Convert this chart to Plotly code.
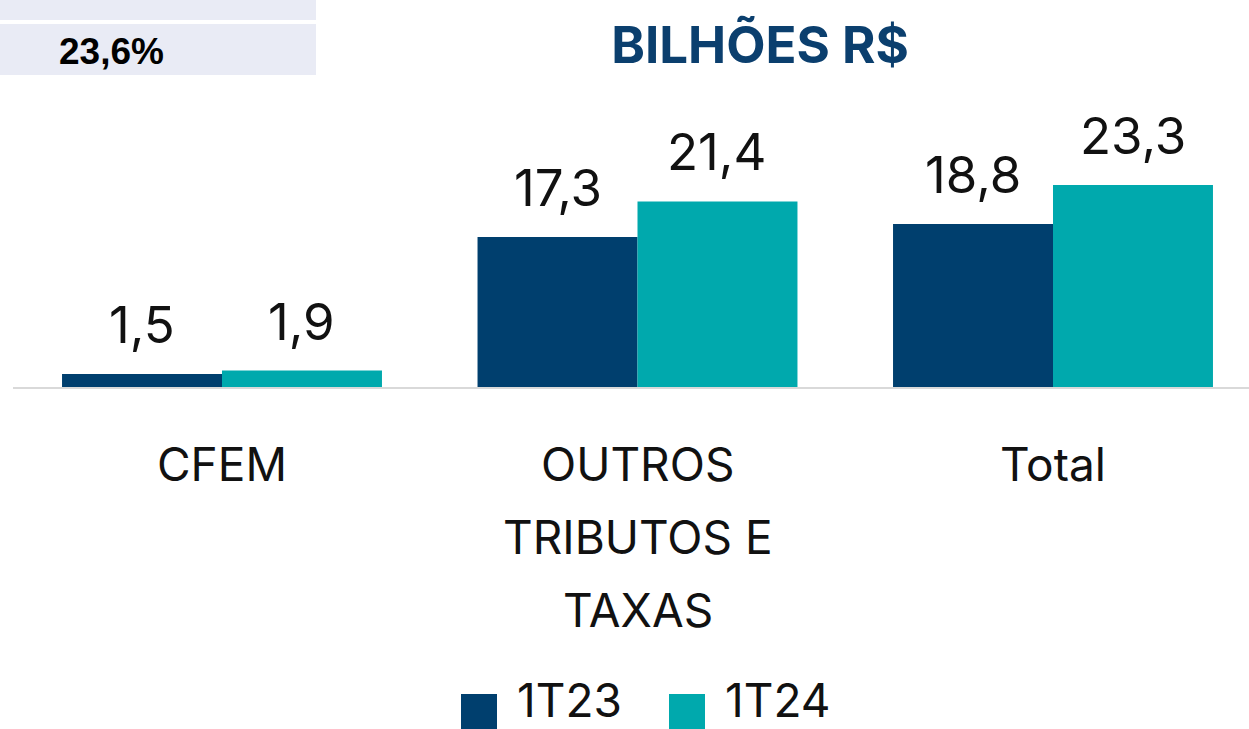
import plotly.graph_objects as go

categories = ["CFEM", "OUTROS<br>TRIBUTOS E<br>TAXAS", "Total"]
series_names = ["1T23", "1T24"]
values_1t23 = [1.5, 17.3, 18.8]
values_1t24 = [1.9, 21.4, 23.3]
colors = ["#003F6E", "#00A9AD"]
title_text = "BILHÕES R$"
box_text = "23,6%"

W, H = 1249, 729
M_T, M_B = 100, 342
PLOT_H = H - M_T - M_B
BARGAP = 0.23
LABEL_FONT = "Inter"

def fmt(v):
    return f"{v:.1f}".replace(".", ",")

def py(pix):  # pixel y (from top) -> paper y
    return (H - M_B - pix) / PLOT_H

fig = go.Figure()
series = [values_1t23, values_1t24]
for name, vals, col in zip(series_names, series, colors):
    fig.add_trace(go.Bar(x=list(range(len(categories))), y=vals, name=name,
                         marker=dict(color=col, line=dict(width=0)),
                         showlegend=False, hoverinfo="skip"))

annotations = []
# value labels
offsets = [-(1 - BARGAP) / 4, (1 - BARGAP) / 4]
for vals, off in zip(series, offsets):
    for i, v in enumerate(vals):
        annotations.append(dict(x=i + off, y=v, xref="x", yref="y", text=fmt(v),
                                showarrow=False, yanchor="bottom", yshift=17,
                                font=dict(family=LABEL_FONT, size=51, color="#111111")))
# category labels (one annotation per line for line spacing)
for i, c in enumerate(categories):
    for j, line in enumerate(c.split("<br>")):
        annotations.append(dict(x=i, y=py(464 + j * 73), xref="x", yref="paper", text=line,
                                showarrow=False, yanchor="middle",
                                font=dict(family=LABEL_FONT, size=46, color="#111111")))
# top-left box text
annotations.append(dict(x=112 / W, y=py(51), xref="paper", yref="paper", text=f"<b>{box_text}</b>",
                        showarrow=False, xanchor="center", yanchor="middle",
                        font=dict(family="Liberation Sans", size=37, color="#000000")))

shapes = [
    dict(type="rect", xref="paper", yref="paper", x0=0, x1=316 / W, y0=py(0), y1=py(20),
         fillcolor="#E9EBF5", line=dict(width=0), layer="below"),
    dict(type="rect", xref="paper", yref="paper", x0=0, x1=316 / W, y0=py(24), y1=py(75),
         fillcolor="#E9EBF5", line=dict(width=0), layer="below"),
]
# custom legend
leg_x = [461, 669]
for name, col, lx in zip(series_names, colors, leg_x):
    shapes.append(dict(type="rect", xref="paper", yref="paper", x0=lx / W, x1=(lx + 36) / W,
                       y0=py(729), y1=py(694), fillcolor=col, line=dict(width=0)))
    annotations.append(dict(x=(lx + 54) / W, y=py(700), xref="paper", yref="paper", text=name,
                            showarrow=False, xanchor="left", yanchor="middle",
                            font=dict(family=LABEL_FONT, size=46, color="#111111")))

fig.update_layout(
    width=W, height=H,
    margin=dict(l=0, r=0, t=M_T, b=M_B, pad=0),
    paper_bgcolor="white", plot_bgcolor="white",
    barmode="group", bargap=BARGAP, bargroupgap=0,
    title=dict(text=f"<b>{title_text}</b>", x=760 / W, xanchor="center",
               y=1 - 45 / H, yanchor="middle",
               font=dict(family="Inter", size=51, color="#0B3F6E")),
    xaxis=dict(domain=[13 / W, 1], range=[-(222 - 13) / 415.5, (W - 222) / 415.5],
               showticklabels=False, showline=True, linecolor="#D9D9D9", linewidth=2,
               showgrid=False, zeroline=False, ticks="", fixedrange=True),
    yaxis=dict(range=[0, PLOT_H / 8.67], visible=False, showgrid=False, zeroline=False,
               fixedrange=True),
    annotations=annotations, shapes=shapes, showlegend=False,
)
fig.write_html("out.html", config={"displayModeBar": False},
               post_script="document.body.style.margin='0';document.body.style.overflow='hidden';")
